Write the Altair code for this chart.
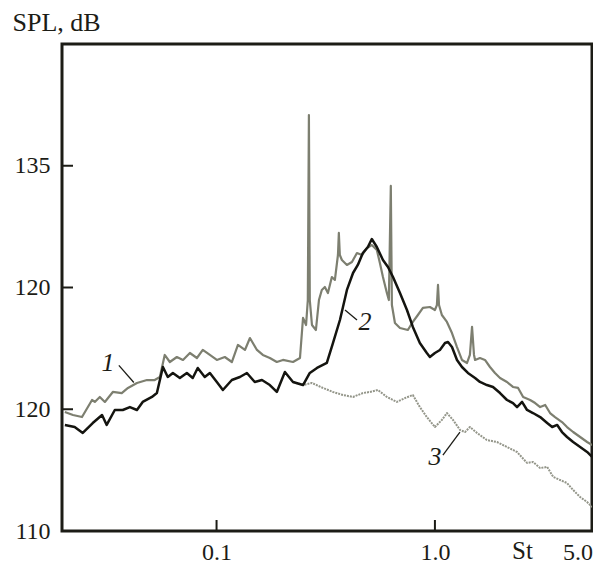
import altair as alt
import pandas as pd

# ---------------- data ----------------
c1_st = [0.0202,0.0220,0.0242,0.0269,0.0277,0.0292,0.0308,0.0335,0.0368,0.0393,
         0.0432,0.0480,0.0521,0.0550,0.0579,0.0611,0.0658,0.0702,0.0755,0.0813,
         0.0865,0.0932,0.1003,0.1091,0.1175,0.1253,0.1349,0.1422,0.1531,0.1629,
         0.1754,0.1888,0.2014,0.2239,0.2410,0.2489,0.2570,0.2618,0.2648,0.2673,
         0.2735,0.2851,0.2944,0.3034,0.3133,0.3236,0.3373,0.3483,0.3597,0.3631,
         0.3669,0.3750,0.3954,0.4169,0.4395,0.4634,0.4887,0.5140,0.5420,0.5598,
         0.5781,0.6026,0.6152,0.6281,0.6353,0.6561,0.6918,0.7516,0.7925,0.8356,
         0.881,0.9484,1.000,1.021,1.033,1.044,1.076,1.135,1.197,1.262,
         1.330,1.403,1.446,1.479,1.510,1.527,1.608,1.695,1.787,1.884,
         1.987,2.138,2.278,2.404,2.535,2.729,2.877,3.034,3.199,3.367,
         3.548,3.819,4.027,4.295,4.624,4.977,5.248]
c1_db = [119.77,119.53,119.36,120.76,120.60,121.01,120.60,121.42,121.33,121.75,
         122.16,122.40,122.40,122.65,124.46,123.88,124.29,124.05,124.62,124.21,
         124.87,124.46,124.05,124.29,123.88,125.28,124.87,125.85,124.87,124.46,
         124.21,123.88,124.05,123.88,124.21,127.50,126.92,128.97,144.17,128.97,
         126.92,126.51,128.97,129.80,130.04,129.55,130.86,130.62,132.67,134.48,
         132.67,132.26,131.85,132.09,132.83,132.67,133.24,133.49,133.08,132.01,
         130.86,129.55,128.97,138.34,128.56,127.08,126.67,126.51,127.17,127.74,
         128.32,128.40,128.15,128.56,130.21,128.56,127.74,127.17,126.26,125.11,
         124.05,123.80,124.46,126.76,124.46,124.05,124.21,124.05,123.47,122.98,
         122.57,122.24,121.83,121.75,121.01,120.76,120.51,120.18,120.35,119.69,
         119.36,118.95,118.54,118.13,117.72,117.31,117.06]

c2_st = [0.0202,0.0224,0.0244,0.0271,0.0299,0.0314,0.0342,0.0372,0.0401,0.0432,
         0.0459,0.0506,0.0533,0.0568,0.0598,0.0631,0.0679,0.0731,0.0778,0.0820,
         0.0883,0.0932,0.1003,0.1069,0.1175,0.1279,0.1377,0.1496,0.1614,0.1754,
         0.1888,0.2056,0.2239,0.2489,0.2673,0.2884,0.3199,0.3412,0.3673,0.3793,
         0.3954,0.4217,0.4436,0.4677,0.4932,0.5140,0.5420,0.5781,0.6095,0.6427,
         0.6918,0.7447,0.7925,0.8531,0.9183,0.9484,1.000,1.054,1.112,1.148,
         1.197,1.262,1.330,1.416,1.527,1.608,1.730,1.845,1.987,2.138,
         2.278,2.377,2.506,2.642,2.812,3.034,3.266,3.443,3.631,3.819,
         4.027,4.295,4.624,4.977,5.248]
c2_db = [118.71,118.54,118.05,118.87,119.53,118.71,119.94,119.94,120.18,119.94,
         120.60,121.01,121.33,123.47,122.65,122.98,122.57,122.98,122.57,123.39,
         122.65,122.98,122.24,121.58,122.40,122.65,122.98,122.24,122.40,121.99,
         121.42,123.06,122.24,121.99,122.98,123.39,123.80,125.44,127.33,128.40,
         129.80,131.19,131.85,132.83,133.33,133.98,133.33,132.26,131.68,130.86,
         129.55,128.15,126.76,125.44,124.62,124.29,124.62,124.87,125.44,125.52,
         125.11,124.05,123.47,122.98,122.57,122.24,121.99,121.83,121.33,120.76,
         120.51,120.18,120.60,119.94,119.69,119.36,118.87,118.54,118.71,118.13,
         117.72,117.31,116.90,116.49,116.08]

c3_st = [0.2239,0.2489,0.2735,0.3069,0.3412,0.3793,0.4217,0.4677,0.5035,0.5483,
         0.6026,0.6699,0.7295,0.7925,0.8531,0.9183,1.000,1.076,1.135,1.211,
         1.303,1.374,1.446,1.560,1.730,1.923,2.138,2.377,2.642,2.812,
         3.034,3.266,3.483,3.741,4.027,4.295,4.624,4.977,5.248]
c3_db = [122.24,121.99,122.16,121.75,121.42,121.17,121.01,121.33,121.42,121.58,
         121.01,120.60,120.92,121.17,120.18,119.36,118.54,119.12,119.69,119.12,
         118.30,118.13,118.54,118.05,117.47,117.31,116.90,116.49,115.59,115.67,
         115.17,115.26,114.44,114.19,113.94,113.37,112.79,112.38,111.97]

# curve labels and their leader lines
lab_text = ["1", "2", "3"]
lab_st = [0.0318, 0.478, 1.0]
lab_db = [123.8, 127.2, 116.1]
lead_st = [0.0357, 0.3875, 1.088]
lead_db = [123.6, 128.15, 116.24]
lead_st2 = [0.0418, 0.4397, 1.302]
lead_db2 = [122.2, 127.33, 118.13]

x_tick_vals = [0.1, 1.0, 5.0]
x_inner_ticks = [0.1, 1.0]
y_tick_vals = [110, 120, 130, 140]
y_tick_labels = ["110", "120", "120", "135"]
y_inner_ticks = [120, 130, 140]

# ---------------- styling ----------------
FONT = "'Liberation Serif', 'Times New Roman', Times, serif"
INK = "#1c1c16"
GRAY = "#7d7f70"
BLACK = "#14140f"
LIGHT = "#94968a"

x_scale = alt.Scale(type="log", domain=[0.0196, 5.24], nice=False)
y_scale = alt.Scale(domain=[110, 150], nice=False, zero=False)

ylabel_expr = " : ".join(
    f"datum.value == {v} ? '{t}'" for v, t in zip(y_tick_vals[:-1], y_tick_labels[:-1])
) + f" : '{y_tick_labels[-1]}'"

xaxis = alt.Axis(values=x_tick_vals, labelExpr="format(datum.value, '.1f')",
                 title="St", titleX=460, titleY=27, titleAlign="center",
                 titleBaseline="alphabetic", titleFont=FONT, titleFontSize=25,
                 titleFontWeight="normal", titleColor=INK,
                 labelFont=FONT, labelFontSize=24, labelColor=INK, labelPadding=9,
                 labelFlush=10, labelFlushOffset=5, labelOverlap=False,
                 ticks=False, tickSize=0, domain=False, grid=False)
yaxis = alt.Axis(values=y_tick_vals, labelExpr=ylabel_expr,
                 title="SPL, dB", titleAngle=0, titleX=-50, titleY=-14,
                 titleAlign="left", titleBaseline="alphabetic", titleFont=FONT,
                 titleFontSize=26, titleFontWeight="normal", titleColor=INK,
                 labelFont=FONT, labelFontSize=24, labelColor=INK, labelPadding=12,
                 labelOverlap=False, ticks=False, tickSize=0, domain=False, grid=False)

X = alt.X("St:Q", scale=x_scale, axis=xaxis)
Y = alt.Y("SPL:Q", scale=y_scale, axis=yaxis)


def curve(st, db, color, width, dash=None):
    df = pd.DataFrame({"St": st, "SPL": db})
    kw = dict(color=color, strokeWidth=width, clip=True, strokeJoin="round")
    if dash:
        kw["strokeDash"] = dash
    return alt.Chart(df).mark_line(**kw).encode(x=X, y=Y)


l3 = curve(c3_st, c3_db, LIGHT, 2.0, [2, 1])
l1 = curve(c1_st, c1_db, GRAY, 2.2)
l2 = curve(c2_st, c2_db, BLACK, 2.5)

labels = alt.Chart(pd.DataFrame({"St": lab_st, "SPL": lab_db, "t": lab_text})).mark_text(
    font=FONT, fontSize=26, fontStyle="italic", color=INK, align="center", baseline="middle"
).encode(x=X, y=Y, text="t:N")

leaders = alt.Chart(pd.DataFrame({"St": lead_st, "SPL": lead_db,
                                  "St2": lead_st2, "SPL2": lead_db2})).mark_rule(
    color=INK, strokeWidth=1.3
).encode(x=X, y=Y, x2="St2:Q", y2="SPL2:Q")

yticks = alt.Chart(pd.DataFrame({"SPL": y_inner_ticks})).mark_rule(
    color=INK, strokeWidth=2
).encode(y=Y, x=alt.value(0), x2=alt.value(11))

xticks = alt.Chart(pd.DataFrame({"St": x_inner_ticks})).mark_rule(
    color=INK, strokeWidth=2
).encode(x=X, y=alt.value(487), y2=alt.value(476))

chart = alt.layer(l3, l1, l2, leaders, labels, yticks, xticks).properties(
    width=530, height=487,
    padding={"left": 62, "top": 44, "right": 1, "bottom": 36},
    autosize=alt.AutoSizeParams(type="none"),
    background="white",
).configure_view(stroke=INK, strokeWidth=3)

chart.save("out.html", embed_options={"renderer": "svg", "actions": False})
